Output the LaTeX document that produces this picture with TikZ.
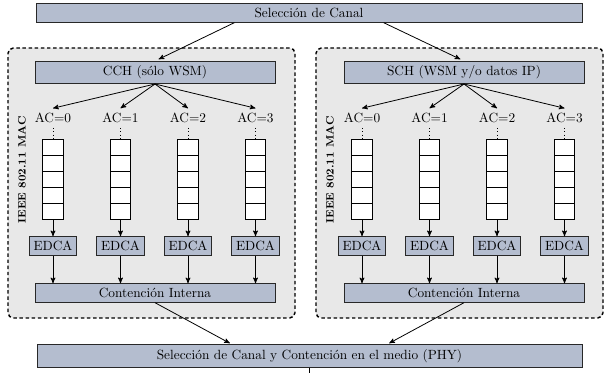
\documentclass[tikz,border=0pt]{standalone}
\usepackage{tikz}
\usetikzlibrary{arrows,shapes.multipart}
\definecolor{box_blue}{RGB}{180,189,207}
\definecolor{panel_gray}{RGB}{232,232,232}
\definecolor{line_gray}{RGB}{40,40,40}

\begin{document}
\begin{tikzpicture}[->,semithick,>=stealth',x=0.75pt,y=-0.75pt]
    \tikzstyle{block}=[draw=line_gray, rectangle, fill=box_blue, text=black, minimum height=13.5pt, inner sep=3.33pt]
    \tikzstyle{panel}=[draw=black, line width=1.1pt, dash pattern=on 2.6pt off 2pt, rounded corners=4pt, fill=panel_gray, minimum width=215.25pt, minimum height=202.5pt]
    \tikzstyle{queue}=[draw=black, fill=white, rectangle split, rectangle split parts=5, rectangle split empty part height=11.4pt, rectangle split empty part depth=0pt, rectangle split empty part width=11pt, minimum width=11pt, inner sep=0pt]
    \tikzstyle{mac}=[rotate=90, font=\footnotesize\bfseries]

    \useasboundingbox (0,0) rectangle (605,373);

    % the two MAC panels
    \node[panel] (mac_l) at (151.5,183) {};
    \node[panel] (mac_r) at (459.5,183) {};
    \node[mac] (lab_l) at (22,170) {IEEE 802.11 MAC};
    \node[mac] (lab_r) at (330,170) {IEEE 802.11 MAC};

    \node[block, minimum width=409.5pt] (sel) at (309,13) {Selección de Canal};
    \node[block, minimum width=180pt] (cch) at (155,72.5) {CCH (sólo WSM)};
    \node[block, minimum width=180pt] (sch) at (464,72.5) {SCH (WSM y/o datos IP)};
    \node[block, minimum width=180pt] (ci_l) at (155,293) {Contención Interna};
    \node[block, minimum width=180pt] (ci_r) at (464,293) {Contención Interna};
    \node[block, minimum width=408.75pt] (phy) at (309.5,356) {Selección de Canal y Contención en el medio (PHY)};
    \coordinate (out) at (310,390);

    % access categories, queues and EDCA of each channel
    \foreach \p/\dx/\ch/\ci in {l/0/cch/ci_l, r/309/sch/ci_r} {
      \foreach \n/\x in {0/53,1/120.5,2/188,3/255.5} {
        \node (ac\p\n) at (\x+\dx,118) {AC=\n};
        \node[queue] (q\p\n) at (\x+\dx,179) {};
        \node[block] (ed\p\n) at (\x+\dx,246) {EDCA};
        \path
         (\ch.south) edge[] (ac\p\n.north)
         (ac\p\n.south) edge[-,dotted] (q\p\n.north)
         (q\p\n.south) edge[] (ed\p\n.north)
         (ed\p\n.south) edge[] (ed\p\n.south |- \ci.north)
         ;
      }
    }

    \path
     ([xshift=-56pt]sel.south) edge[shorten >=3pt] (cch.north)
     ([xshift=56pt]sel.south) edge[shorten >=3pt] (sch.north)
     (ci_l.south) edge[shorten >=2pt] ([xshift=-58pt]phy.north)
     (ci_r.south) edge[shorten >=2pt] ([xshift=58pt]phy.north)
     (phy.south) edge[-] (phy.south |- out)
     ;
\end{tikzpicture}
\end{document}
